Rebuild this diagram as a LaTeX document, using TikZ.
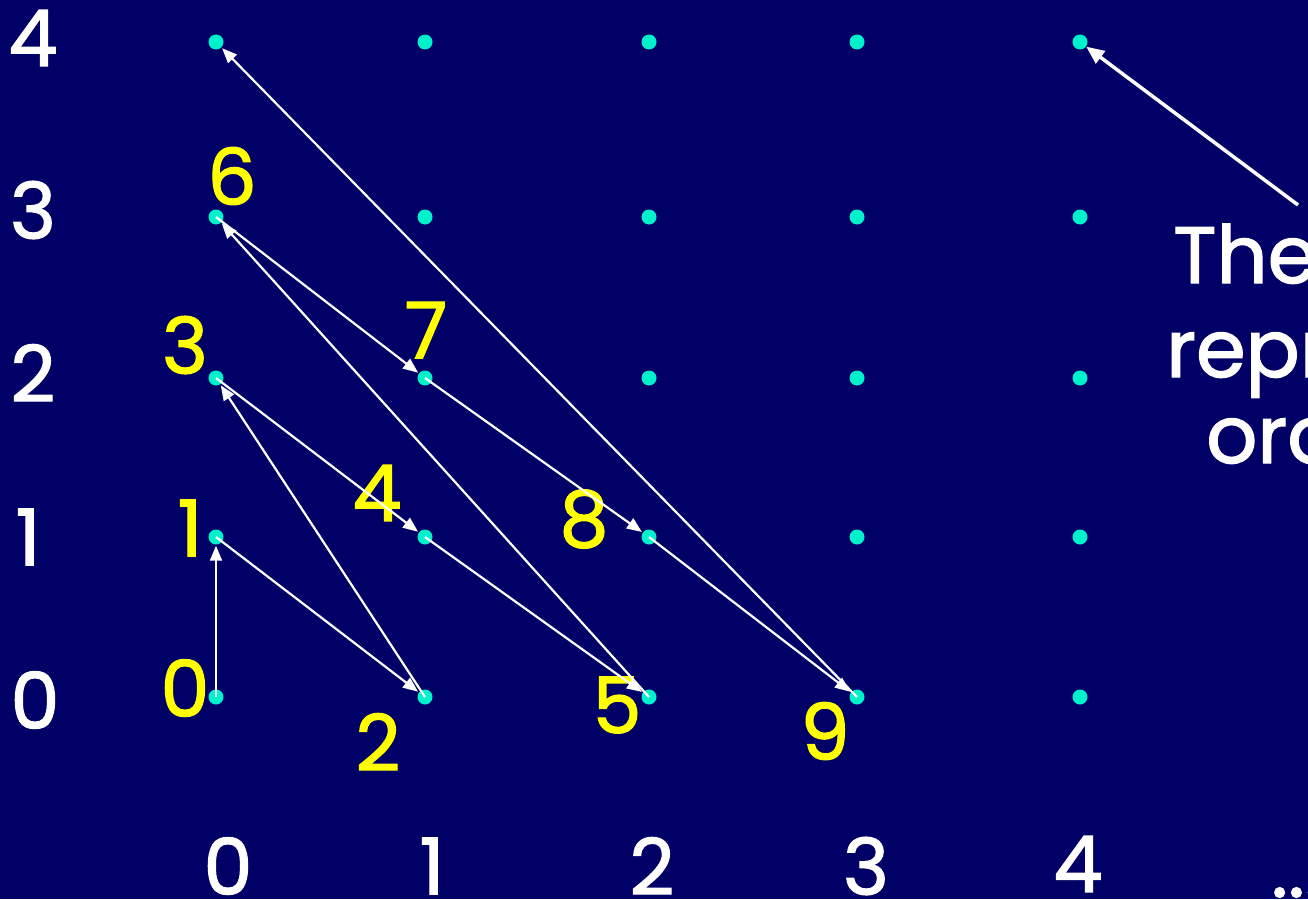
\documentclass[tikz,border=0pt]{standalone}
\usepackage{fontspec}
\setmainfont{Poppins}
\newfontfamily\slidefont{Poppins}[FakeBold=1.6]
\usepackage{tikz}
\usetikzlibrary{arrows.meta}

\definecolor{slide}{HTML}{000066}
\definecolor{Aqua}{HTML}{00F2CC}
\definecolor{Lemon}{HTML}{FFFF00}

\begin{document}
\begin{tikzpicture}[
		x=1pt,y=-1pt,
		pt/.style={circle,fill=Aqua,inner sep=0pt,minimum size=15pt},
		axis/.style={text=white,inner sep=0pt,font=\fontsize{78}{78}\slidefont},
		idx/.style={text=Lemon,inner sep=0pt,font=\fontsize{78}{78}\slidefont},
		mv/.style={-{Triangle[length=15pt,width=12pt]},draw=white,line width=2.2pt,shorten >=1pt},
		hint/.style={-{Triangle[length=18pt,width=15pt]},draw=white,line width=3.5pt},
		note/.style={text=white,inner sep=0pt,anchor=base west,font=\fontsize{80}{80}\slidefont}]
	\useasboundingbox (0,0) rectangle (1308,899);
	\clip (0,0) rectangle (1308,899);
	\fill[slide] (0,0) rectangle (1308,899);
	% grid of pairs
	\foreach \i/\x in {0/216,1/425,2/649,3/857,4/1080}
		\foreach \j/\y in {0/697,1/537,2/378,3/217,4/42}
			\node[pt] (d\i\j) at (\x,\y) {};
	% axes
	\node[axis] (y4) at (33,38) {4};
	\node[axis] (y3) at (33,210) {3};
	\node[axis] (y2) at (33,373) {2};
	\node[axis] (y1) at (28,537) {1};
	\node[axis] (y0) at (35,700) {0};
	\node[axis] (x0) at (228,866) {0};
	\node[axis] (x1) at (432,866) {1};
	\node[axis] (x2) at (652,866) {2};
	\node[axis] (x3) at (866,866) {3};
	\node[axis] (x4) at (1078,864) {4};
	% order of visit
	\node[idx] (n0) at (185,688) {0};
	\node[idx] (n1) at (190,528) {1};
	\node[idx] (n2) at (378,742) {2};
	\node[idx] (n3) at (185,345) {3};
	\node[idx] (n4) at (377,493) {4};
	\node[idx] (n5) at (617,705) {5};
	\node[idx] (n6) at (232,176) {6};
	\node[idx] (n7) at (426,330) {7};
	\node[idx] (n8) at (584,519) {8};
	\node[idx] (n9) at (825,731) {9};
	\foreach \a/\b in {00/01,01/10,10/02,02/11,11/20,20/03,03/12,12/21,21/30,30/04}
		\draw[mv] (d\a.center) -- (d\b);
	% note on the right
	\node[note] (t1) at (1173,283) {The};
	\node[note] (t2) at (1166,377) {repr};
	\node[note] (t3) at (1206,463) {ord};
	\node[note] (dots) at (1271,897) {...};
	\coordinate (tail) at (1298,205);
	\draw[hint] (tail) -- (d44);
\end{tikzpicture}
\end{document}
